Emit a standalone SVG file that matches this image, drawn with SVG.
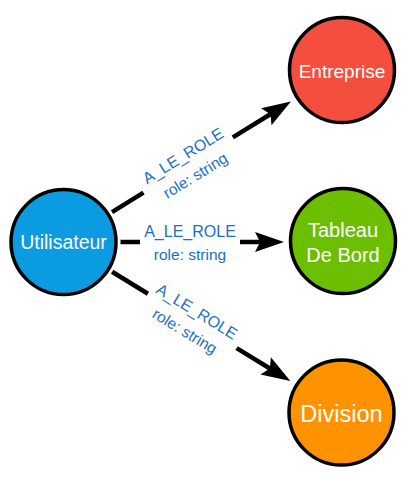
<svg xmlns="http://www.w3.org/2000/svg" width="414" height="490" viewBox="0 0 414 490">
  <style>
    .node circle { stroke: #000; stroke-width: 3.5; }
    .ntext { font-family: "Liberation Sans", Arial, sans-serif; fill: #fff; text-anchor: middle; }
    .edge line { stroke: #000; stroke-width: 4.5; }
    .lbl { font-family: "Liberation Sans", Arial, sans-serif; fill: #1c6fc2; text-anchor: middle; }
    .t1 { font-size: 16px; }
    .t2 { font-size: 15.5px; }
  </style>
  <defs>
    <path id="ah" d="M0,0 L-29,-10 L-24,0 L-29,10 Z" fill="#000"/>
  </defs>
  <g id="connectors">
    <g class="edge" transform="translate(63.5,242) rotate(-31.7)">
      <line x1="57" y1="0" x2="94" y2="0"/>
      <line x1="199" y1="0" x2="245" y2="0"/>
      <use href="#ah" x="267.3" y="0"/>
      <text class="lbl t1" x="147" y="-5">A_LE_ROLE</text>
      <text class="lbl t2" x="147" y="18">role: string</text>
    </g>
    <g class="edge" transform="translate(63.5,242)">
      <line x1="57" y1="0" x2="76.5" y2="0"/>
      <line x1="176.5" y1="0" x2="198" y2="0"/>
      <use href="#ah" x="220.5" y="0"/>
      <text class="lbl t1" x="126.5" y="-5">A_LE_ROLE</text>
      <text class="lbl t2" x="126.5" y="18">role: string</text>
    </g>
    <g class="edge" transform="translate(63.5,242) rotate(31.5)">
      <line x1="57" y1="0" x2="99" y2="0"/>
      <line x1="203" y1="0" x2="244" y2="0"/>
      <use href="#ah" x="266.1" y="0"/>
      <text class="lbl t1" x="150" y="-5">A_LE_ROLE</text>
      <text class="lbl t2" x="150" y="18">role: string</text>
    </g>
  </g>
  <g id="utilisateur" class="node">
    <circle cx="63.5" cy="242" r="52.5" fill="#0a9be0"/>
    <text class="ntext" x="63.5" y="248.5" font-size="19.5">Utilisateur</text>
  </g>
  <g id="entreprise" class="node">
    <circle cx="342" cy="70" r="52.5" fill="#f44f3e"/>
    <text class="ntext" x="342" y="78" font-size="19">Entreprise</text>
  </g>
  <g id="tableau" class="node">
    <circle cx="343" cy="241" r="52.5" fill="#6cbe00"/>
    <text class="ntext" x="343" y="236.7" font-size="20">Tableau</text>
    <text class="ntext" x="343" y="261.7" font-size="20">De Bord</text>
  </g>
  <g id="division" class="node">
    <circle cx="341.5" cy="412.5" r="52.5" fill="#ff9200"/>
    <text class="ntext" x="341.5" y="421.5" font-size="23.5">Division</text>
  </g>
</svg>
